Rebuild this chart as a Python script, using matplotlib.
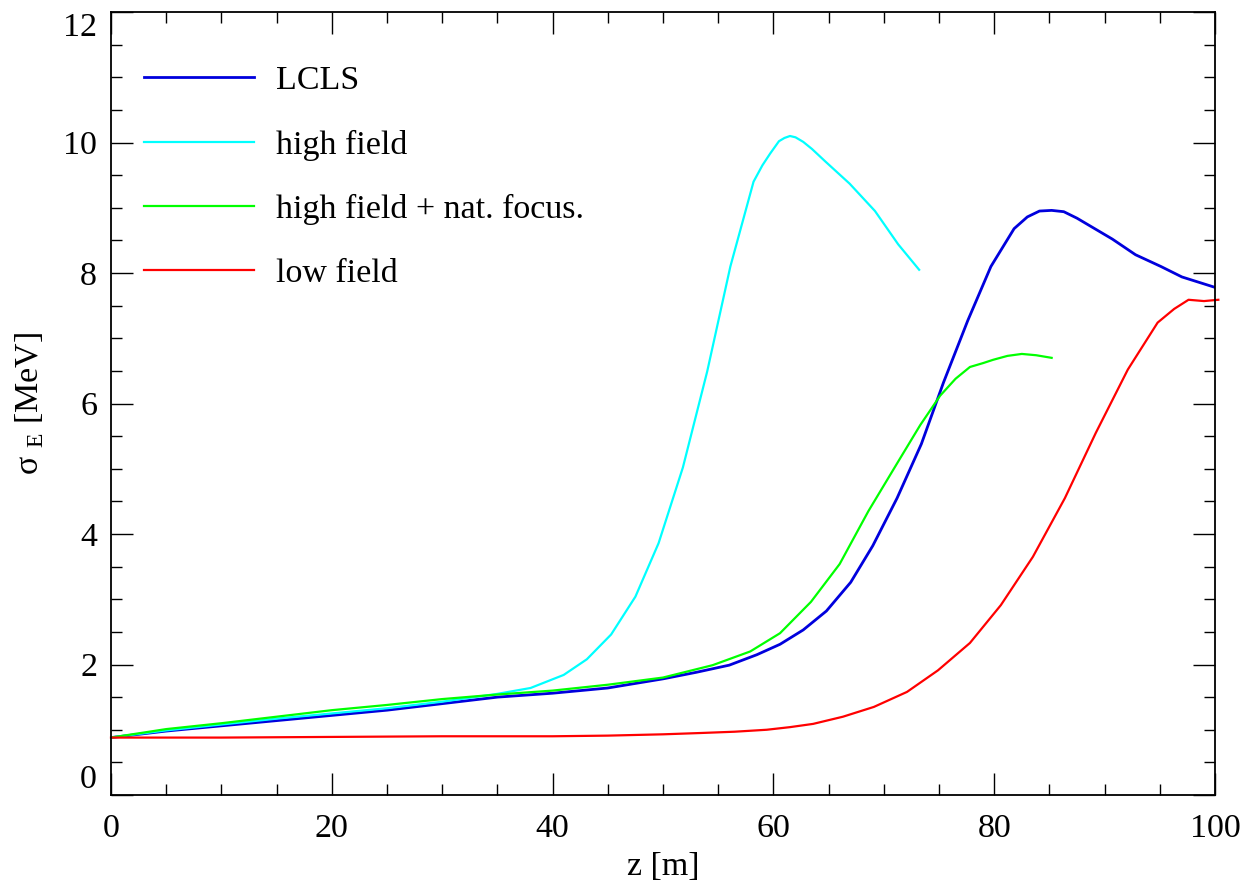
import matplotlib
matplotlib.use('Agg')
import matplotlib.pyplot as plt
from matplotlib.ticker import MultipleLocator

plt.rcParams['font.family'] = ['Liberation Serif', 'DejaVu Serif']
plt.rcParams['mathtext.fontset'] = 'custom'
plt.rcParams['mathtext.rm'] = 'Liberation Serif'

# LCLS
z_lcls = [0, 5, 10, 15, 20, 25, 30, 35, 40, 45, 50, 53, 56, 58.5, 60.6, 62.7, 64.8, 67,
          69, 71.2, 73.4, 75.4, 77.6, 79.7, 81.8, 83, 84.1, 85.2, 86.3, 87.5, 88.6, 90.7,
          92.8, 95.1, 97, 100]
s_lcls = [0.88, 0.98, 1.06, 1.14, 1.22, 1.30, 1.40, 1.50, 1.56, 1.64, 1.78, 1.88, 1.99, 2.15,
          2.31, 2.53, 2.82, 3.26, 3.82, 4.55, 5.38, 6.32, 7.27, 8.10, 8.68, 8.86, 8.95, 8.96,
          8.94, 8.84, 8.73, 8.52, 8.28, 8.10, 7.94, 7.78]

# high field
z_high = [0, 5, 10, 15, 20, 25, 30, 35, 38, 41, 43.1, 45.3, 47.5, 49.6, 51.8, 54, 56.1,
          58.2, 59, 59.7, 60.5, 61, 61.5, 62, 62.7, 63.5, 64.7, 66.9, 69.2, 71.3, 73.2]
s_high = [0.88, 0.99, 1.08, 1.17, 1.25, 1.33, 1.43, 1.55, 1.64, 1.84, 2.08, 2.46, 3.04, 3.86,
          5.02, 6.49, 8.10, 9.40, 9.65, 9.83, 10.02, 10.07, 10.10, 10.08, 10.01, 9.90, 9.71,
          9.37, 8.95, 8.44, 8.05]

# high field + natural focusing
z_nat = [0, 5, 10, 15, 20, 25, 30, 35, 40, 45, 50, 54.5, 57.9, 60.6, 63.4, 66, 68.6, 71.3,
         73.3, 75.1, 76.5, 77.8, 79, 79.9, 81.2, 82.5, 83.8, 85.2]
s_nat = [0.88, 1.01, 1.10, 1.20, 1.30, 1.38, 1.47, 1.54, 1.60, 1.69, 1.80, 1.99, 2.20, 2.48,
         2.96, 3.54, 4.35, 5.11, 5.67, 6.12, 6.38, 6.56, 6.62, 6.67, 6.73, 6.76, 6.74, 6.70]

# low field
z_low = [0, 10, 20, 30, 40, 45, 50, 53.4, 56.5, 59.4, 61.5, 63.6, 66.3, 69.1, 72.1, 74.9,
         77.8, 80.6, 83.5, 86.4, 89.2, 92.1, 94.8, 96.3, 97.6, 99, 100.3]
s_low = [0.88, 0.88, 0.89, 0.90, 0.90, 0.91, 0.93, 0.95, 0.97, 1.00, 1.04, 1.09, 1.20, 1.35,
         1.58, 1.91, 2.33, 2.91, 3.65, 4.55, 5.55, 6.52, 7.24, 7.45, 7.59, 7.57, 7.59]

fig = plt.figure(figsize=(12.43, 8.85), dpi=100)
ax = fig.add_axes([0.0893, 0.1017, 0.8882, 0.8847])

ax.plot(z_lcls, s_lcls, color='#0000dd', lw=2.0, label='LCLS')
ax.plot(z_high, s_high, color='#00ffff', lw=1.6, label='high field')
ax.plot(z_nat, s_nat, color='#00ff00', lw=1.6, label='high field + nat. focus.')
ax.plot(z_low, s_low, color='#ff0000', lw=1.6, label='low field', clip_on=False)

ax.set_xlim(0, 100)
ax.set_ylim(0, 12)
ax.set_xticks(range(0, 101, 20))
ax.set_yticks(range(0, 13, 2))
ax.xaxis.set_minor_locator(MultipleLocator(5))
ax.yaxis.set_minor_locator(MultipleLocator(0.5))
ax.tick_params(which='both', direction='in', top=True, right=True, labelsize=24.5)
ax.tick_params(which='major', length=16, width=1)
ax.tick_params(which='minor', length=8, width=1)
ax.tick_params(axis='x', pad=13)
ax.tick_params(axis='y', pad=10)
for sp in ax.spines.values():
    sp.set_linewidth(1.3)

# first and last y labels are pulled inside, like the original
ylabels = ax.get_yticklabels()
ylabels[0].set_verticalalignment('bottom')
ylabels[-1].set_verticalalignment('top')

ax.set_xlabel('z [m]', fontsize=24.5, labelpad=6)
ax.set_ylabel(r'σ $_{\rm E}$ [MeV]', fontsize=24.5, labelpad=12)

ax.legend(loc='upper left', bbox_to_anchor=(0.002, 0.971), frameon=False, fontsize=24.5,
          handlelength=3.25, handletextpad=0.63, labelspacing=0.98)

fig.savefig('out.png', dpi=100)
